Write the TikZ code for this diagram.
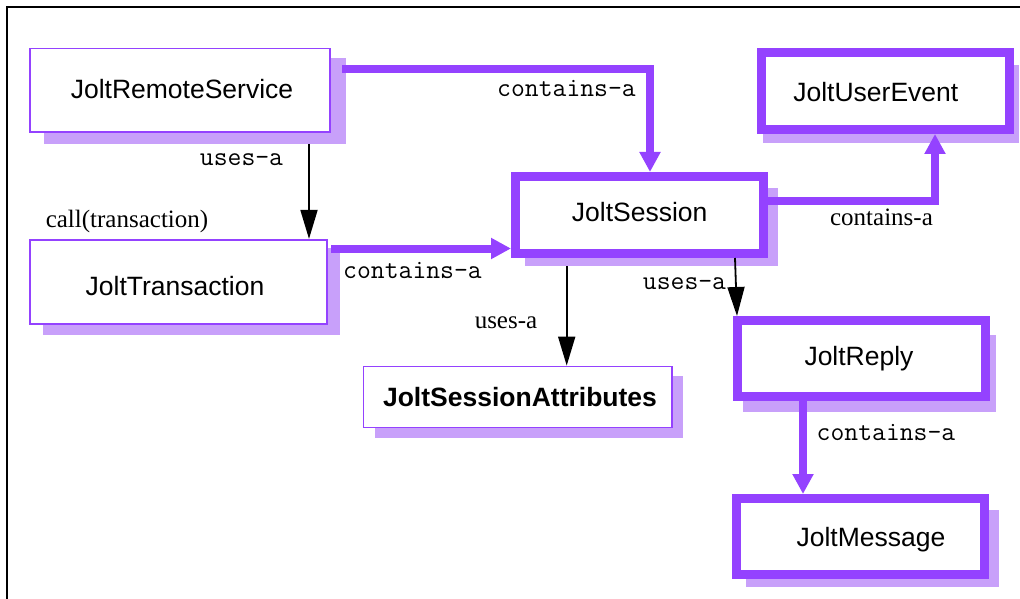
\documentclass[tikz,border=0pt]{standalone}
\usepackage{fontspec}
\setmainfont{Liberation Sans}
\newfontfamily\labelserif{Liberation Serif}
\usetikzlibrary{arrows.meta}
\definecolor{purp}{HTML}{9442FF}
\definecolor{shadowc}{HTML}{C8A0FA}
\tikzset{
  shadowbox/.style={fill=shadowc, draw=none, inner sep=0pt, outer sep=0pt},
  thinbox/.style={draw=purp, fill=white, line width=1.7pt, inner sep=0pt},
  thickbox/.style={draw=purp, fill=white, line width=9pt, inner sep=0pt},
  boxtext/.style={anchor=base, inner sep=0pt, font=\fontsize{26.5}{30}\selectfont},
  boldtext/.style={boxtext, font=\fontsize{26.5}{30}\selectfont\bfseries},
  monolbl/.style={anchor=base, inner sep=0pt, font=\ttfamily\fontsize{26.9}{30}\selectfont},
  seriflbl/.style={anchor=base, inner sep=0pt, font=\labelserif\fontsize{25}{28}\selectfont},
  uses/.style={draw=black, line width=1.8pt, -{Triangle[length=29pt,width=17pt]}},
  has/.style={draw=purp, line width=8pt, line join=miter, -{Triangle[length=20pt,width=20pt]}},
}
\begin{document}
\begin{tikzpicture}[x=1pt,y=-1pt]
\useasboundingbox (0,0) rectangle (1020,599);

% frame
\draw[line width=2pt] (6.7,599) -- (6.7,6.7) -- (1020,6.7);

% drop shadows
\node[shadowbox, minimum width=302pt, minimum height=86pt]   (rs-s) at (195,101) {};
\node[shadowbox, minimum width=297pt, minimum height=87pt]   (tr-s) at (191.5,291.5) {};
\node[shadowbox, minimum width=253pt, minimum height=78pt]   (js-s) at (651.5,227) {};
\node[shadowbox, minimum width=256pt, minimum height=78pt]   (ue-s) at (891,104) {};
\node[shadowbox, minimum width=308pt, minimum height=61.7pt] (sa-s) at (529,406.85) {};
\node[shadowbox, minimum width=253pt, minimum height=76.7pt] (rp-s) at (869.5,373.35) {};
\node[shadowbox, minimum width=252.7pt, minimum height=76.7pt] (ms-s) at (872.35,548.35) {};

% class boxes
\node[thinbox, minimum width=300pt, minimum height=83.8pt]   (rs) at (180.25,90.35) {};
\node[thinbox, minimum width=296.5pt, minimum height=84.5pt] (tr) at (178.5,282) {};
\node[thinbox, minimum width=308.5pt, minimum height=61.1pt] (sa) at (517.7,397) {};
\node[thickbox, minimum width=248pt, minimum height=77pt]    (js) at (639.5,215) {};
\node[thickbox, minimum width=248pt, minimum height=77pt]    (ue) at (885.5,91) {};
\node[thickbox, minimum width=248.3pt, minimum height=75.7pt] (rp) at (861.35,358.35) {};
\node[thickbox, minimum width=248pt, minimum height=76pt]    (ms) at (860.5,536.5) {};

% class names
\node[boxtext]  (rs-t) at (182,99)    {JoltRemoteService};
\node[boxtext]  (tr-t) at (175,295)   {JoltTransaction};
\node[boxtext]  (js-t) at (639.7,221.7) {JoltSession};
\node[boxtext]  (ue-t) at (875.8,101.7) {JoltUserEvent};
\node[boldtext] (sa-t) at (520,406)   {JoltSessionAttributes};
\node[boxtext]  (rp-t) at (859,365.7) {JoltReply};
\node[boxtext]  (ms-t) at (871,546)   {JoltMessage};

% bend and column positions of the connectors
\coordinate (c-rsjs) at (650,69.5);
\coordinate (c-trjs) at (0,248.5);
\coordinate (c-jsue) at (935,201);
\coordinate (c-rstr) at (309,0);
\coordinate (c-jssa) at (566.7,0);
\coordinate (c-jsrp1) at (735,0);
\coordinate (c-jsrp2) at (737,0);
\coordinate (c-rpms) at (803,0);

% containment connectors
\draw[has] ([xshift=-4pt]rs-s.east |- c-rsjs) -| (js.north -| c-rsjs);
\draw[has] ([xshift=3.5pt]tr.east |- c-trjs) -- (js.west |- c-trjs);
\draw[has] (js.east |- c-jsue) -| (ue.south -| c-jsue);
\draw[has] (rp.south -| c-rpms) -- (ms.north -| c-rpms);

% usage connectors
\draw[uses] (rs-s.south -| c-rstr) -- (tr.north -| c-rstr);
\draw[uses] (js-s.south -| c-jssa) -- (sa.north -| c-jssa);
\draw[uses] (js.south -| c-jsrp1) -- (rp.north -| c-jsrp2);

% connector labels
\node[monolbl]  (l-rsjs) at (566.5,96.7) {contains-a};
\node[monolbl]  (l-rstr) at (241.5,165)  {uses-a};
\node[seriflbl] (l-call) at (127,227.7)  {call(transaction)};
\node[monolbl]  (l-trjs) at (412.5,278)  {contains-a};
\node[seriflbl] (l-jsue) at (881.5,225)  {contains-a};
\node[monolbl]  (l-jsrp) at (684.5,289)  {uses-a};
\node[seriflbl] (l-jssa) at (506,328.3)  {uses-a};
\node[monolbl]  (l-rpms) at (886,440)    {contains-a};
\end{tikzpicture}
\end{document}
